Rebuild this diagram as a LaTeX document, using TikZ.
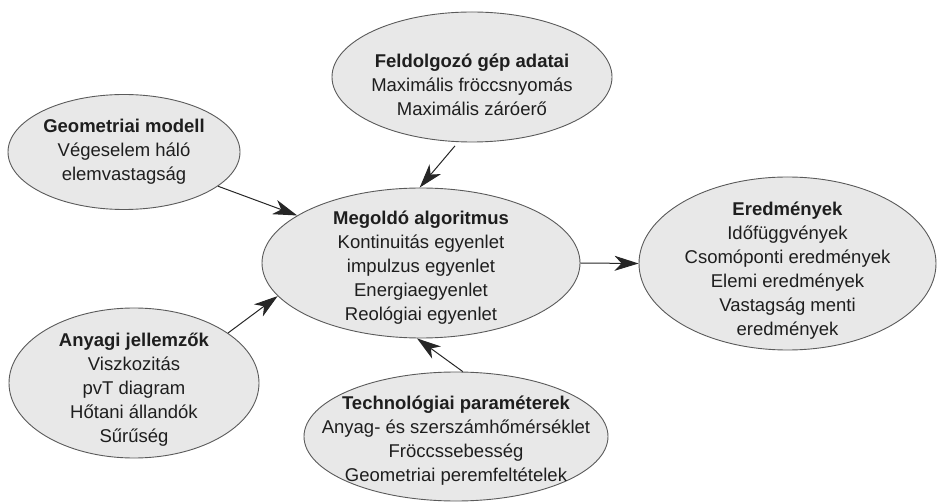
\documentclass[tikz,border=0pt]{standalone}
\usepackage{fontspec}
\setmainfont{Liberation Sans}
\usetikzlibrary{shapes.geometric,arrows.meta}
\definecolor{blobfill}{HTML}{E8E8E8}
\definecolor{blobline}{HTML}{5A5A5A}
\definecolor{txtcol}{HTML}{1E1E1E}
\tikzset{
  blob/.style={ellipse, draw=blobline, line width=0.9pt, fill=blobfill, inner sep=0pt},
  txt/.style={align=center, text=txtcol, font=\fontsize{18.5}{24}\selectfont, inner sep=0pt},
  arr/.style={draw=black!85, line width=1pt, -{Stealth[length=24pt,width=15pt,inset=7pt]}}
}
\begin{document}
\begin{tikzpicture}[x=1pt,y=-1pt]
\useasboundingbox (0,0) rectangle (937,502);
% ellipses
\node[blob, minimum width=232pt, minimum height=115pt] (geo) at (124,152) {};
\node[blob, minimum width=280pt, minimum height=130pt] (feld) at (472,77) {};
\node[blob, minimum width=318pt, minimum height=150pt] (meg) at (421,263) {};
\node[blob, minimum width=297pt, minimum height=173pt] (ered) at (787.5,263.5) {};
\node[blob, minimum width=250pt, minimum height=150pt] (anyag) at (134,383) {};
\node[blob, minimum width=304pt, minimum height=129pt] (tech) at (456,436.5) {};
% texts
\node[txt] (geoT) at (124,152) {\textbf{Geometriai modell}\\Végeselem háló\\elemvastagság};
\node[txt] (feldT) at (472,85) {\textbf{Feldolgozó gép adatai}\\Maximális fröccsnyomás\\Maximális záróerő};
\node[txt] (megT) at (421,268) {\textbf{Megoldó algoritmus}\\Kontinuitás egyenlet\\impulzus egyenlet\\Energiaegyenlet\\Reológiai egyenlet};
\node[txt] (eredT) at (787.5,271) {\textbf{Eredmények}\\Időfüggvények\\Csomóponti eredmények\\Elemi eredmények\\Vastagság menti\\eredmények};
\node[txt] (anyagT) at (134,390) {\textbf{Anyagi jellemzők}\\Viszkozitás\\pvT diagram\\Hőtani állandók\\Sűrűség};
\node[txt] (techT) at (456,441) {\textbf{Technológiai paraméterek}\\Anyag- és szerszámhőmérséklet\\Fröccssebesség\\Geometriai peremfeltételek};
% connectors
\draw[arr] (geo.340.9) -- (meg.159.5);
\draw[arr, shorten <=5pt] (feld.258) -- (meg.91.5);
\draw[arr] (anyag.28.3) -- (meg.193.7);
\draw[arr] (tech.84.8) -- (meg.267);
\draw[arr] (meg.east) -- (ered.west);
\end{tikzpicture}
\end{document}
